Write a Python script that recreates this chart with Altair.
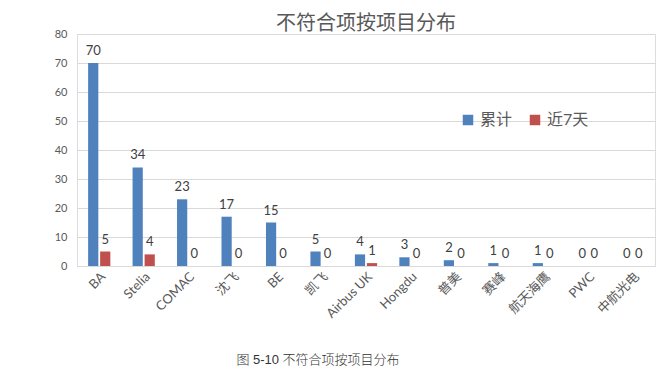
import altair as alt
import pandas as pd

categories = ["BA", "Stelia", "COMAC", "沈飞", "BE", "凯飞", "Airbus UK", "Hongdu",
              "普美", "赛峰", "航天海鹰", "PWC", "中航光电"]
cumulative = [70, 34, 23, 17, 15, 5, 4, 3, 2, 1, 1, 0, 0]
last7 = [5, 4, 0, 0, 0, 0, 1, 0, 0, 0, 0, 0, 0]
series = ["累计", "近7天"]
colors = ["#4F81BD", "#C0504D"]
caption = ["图 5-10 不符合项按项目分布"]

rows = []
for c, a, b in zip(categories, cumulative, last7):
    rows.append({"cat": c, "series": series[0], "value": a})
    rows.append({"cat": c, "series": series[1], "value": b})
df = pd.DataFrame(rows)

FONT = "Lato, Noto Sans CJK SC, sans-serif"

x = alt.X("cat:N", sort=categories,
          scale=alt.Scale(paddingInner=0.5, paddingOuter=0.25),
          axis=alt.Axis(title=None, labelAngle=-45,
                        labelFontSize=13, labelColor="#595959", labelFont=FONT,
                        ticks=False, domainColor="#D9D9D9", labelPadding=4))
xo = alt.XOffset("series:N", sort=series, scale=alt.Scale(paddingInner=0.15))
y = alt.Y("value:Q", scale=alt.Scale(domain=[0, 80]),
          axis=alt.Axis(title=None, values=list(range(0, 81, 10)), labelFontSize=11,
                        labelColor="#595959", labelFont=FONT, ticks=False, domain=False,
                        gridColor="#D9D9D9", labelPadding=10, labelOverlap=False))

bars = alt.Chart(df).mark_bar().encode(
    x=x, xOffset=xo, y=y,
    color=alt.Color("series:N", sort=series,
                    scale=alt.Scale(domain=series, range=colors),
                    legend=alt.Legend(title=None, orient="none", legendX=383, legendY=78,
                                      direction="horizontal", symbolType="square",
                                      symbolSize=110, labelFontSize=16, labelColor="#595959",
                                      labelFont=FONT, columnPadding=14, symbolStrokeWidth=0))
)

labels = alt.Chart(df).mark_text(baseline="bottom", dy=-5, fontSize=13, color="#404040",
                                 font=FONT).encode(
    x=x, xOffset=xo, y=y, text="value:Q"
)

cap = alt.Chart(pd.DataFrame({"t": caption})).mark_text(
    fontSize=13, font="Liberation Sans, Noto Sans CJK SC, sans-serif", fontWeight=300,
    color="#333333", align="center", baseline="middle"
).encode(x=alt.value(241), y=alt.value(326), text="t:N")

chart = alt.layer(bars, labels, cap).properties(
    width=578, height=232,
    title=alt.TitleParams("不符合项按项目分布", fontSize=20, fontWeight="normal",
                          color="#595959", font="Noto Sans CJK SC", anchor="middle", offset=-6),
    autosize=alt.AutoSizeParams(type="none"),
    padding={"left": 69, "top": 26, "right": 8, "bottom": 102},
).configure_view(stroke=None).configure(background="white")

chart.save("out.html", embed_options={"renderer": "svg", "actions": False})
